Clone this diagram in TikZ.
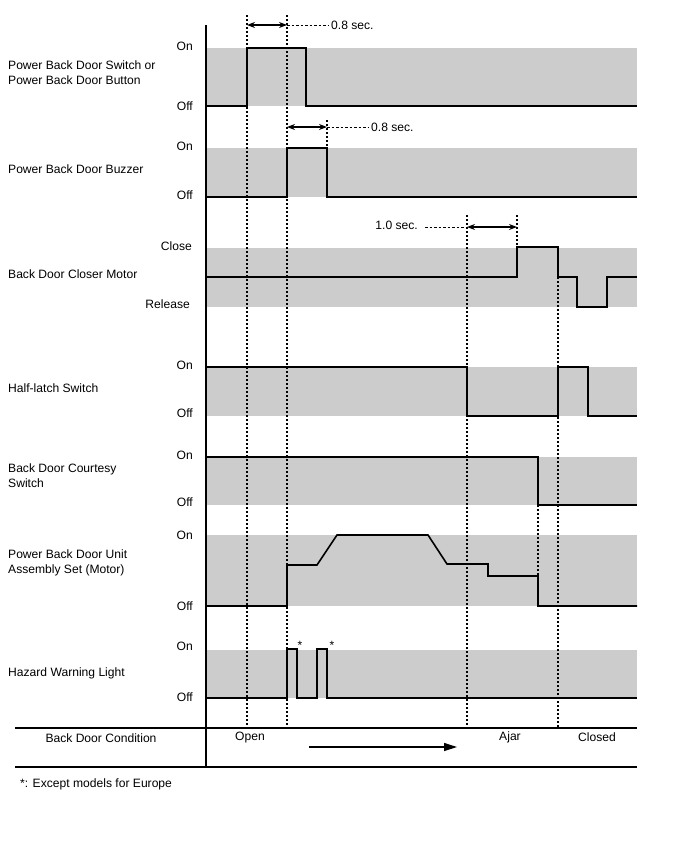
\documentclass[tikz,border=0pt]{standalone}
\usepackage{fontspec}
\setmainfont{Liberation Sans}
\usetikzlibrary{arrows.meta}
\definecolor{bandgray}{RGB}{204,204,204}

\begin{document}
\begin{tikzpicture}[x=1pt,y=-1pt,font=\fontsize{12.1}{15}\selectfont,
    sig/.style={line width=1.6pt},
    guide/.style={line width=1.3pt,dash pattern=on 2pt off 2pt},
    leader/.style={line width=0.6pt,dash pattern=on 2.5pt off 2pt},
    dim/.style={line width=1.2pt,{Stealth[length=8pt,width=6pt]}-{Stealth[length=8pt,width=6pt]}}]

      \useasboundingbox (0,0) rectangle (688,852);

      % grey level bands
      \fill[bandgray] (206,48)  rectangle (637,106);
      \fill[bandgray] (206,148) rectangle (637,197);
      \fill[bandgray] (206,248) rectangle (637,307);
      \fill[bandgray] (206,367) rectangle (637,416);
      \fill[bandgray] (206,457) rectangle (637,505);
      \fill[bandgray] (206,535) rectangle (637,606);
      \fill[bandgray] (206,650) rectangle (637,698);

      \begin{scope}[every node/.style={anchor=west,align=left,inner sep=0pt}]
        \node (sw)   at (8,73)  {Power Back Door Switch or\\Power Back Door Button};
        \node (buz)  at (8,169) {Power Back Door Buzzer};
        \node (clo)  at (8,274) {Back Door Closer Motor};
        \node (hl)   at (8,388) {Half-latch Switch};
        \node (cty)  at (8,476) {Back Door Courtesy\\Switch};
        \node (mot)  at (8,563) {Power Back Door Unit\\Assembly Set (Motor)};
        \node (haz)  at (8,673) {Hazard Warning Light};
        \node (note) at (20,784) {*: Except models for Europe};
      \end{scope}

      \begin{scope}[every node/.style={anchor=east,inner sep=0pt}]
        \node (swon)   at (193,46)  {On};
        \node (swoff)  at (193,106) {Off};
        \node (buzon)  at (193,146) {On};
        \node (buzoff) at (193,195) {Off};
        \node (cloc)   at (192,246) {Close};
        \node (clor)   at (190,304) {Release};
        \node (hlon)   at (193,365) {On};
        \node (hloff)  at (193,413) {Off};
        \node (ctyon)  at (193,455) {On};
        \node (ctyoff) at (193,502) {Off};
        \node (moton)  at (193,535) {On};
        \node (motoff) at (193,606) {Off};
        \node (hazon)  at (193,646) {On};
        \node (hazoff) at (193,697) {Off};
      \end{scope}

      % signals
      \begin{scope}[every path/.style={sig}]
        \draw (206,106) -| (247,48) -| (306,106) -- (637,106);
        \draw (206,197) -| (287,148) -| (327,197) -- (637,197);
        \draw (206,277) -| (517,247) -| (558,277) -| (577,307) -| (607,277) -- (637,277);
        \draw (206,367) -| (467,416) -| (558,367) -| (588,416) -- (637,416);
        \draw (206,457) -| (538,505) -- (637,505);
        \draw (206,606) -| (287,565) -- (317,565) -- (337,535) -- (428,535)
              -- (447,564) -| (488,576) -| (538,606) -- (637,606);
        \draw (206,698) -| (287,649) -| (297,698) -| (317,649) -| (327,698) -- (637,698);
      \end{scope}

      \begin{scope}[every node/.style={font=\fontsize{12}{12}\selectfont,inner sep=0pt}]
        \node (st1) at (300,645) {*};
        \node (st2) at (332,645) {*};
      \end{scope}

      % timing guides
      \begin{scope}[every path/.style={guide}]
        \draw (247,15)  -- (247,728);
        \draw (287,15)  -- (287,728);
        \draw (327,120) -- (327,148);
        \draw (467,215) -- (467,728);
        \draw (517,215) -- (517,247);
        \draw (558,277) -- (558,728);
        \draw (538,505) -- (538,606);
      \end{scope}

      % durations
      \coordinate (t1) at (247,25);
      \coordinate (t2) at (287,25);
      \coordinate (t3) at (287,127);
      \coordinate (t4) at (327,127);
      \coordinate (t5) at (467,227);
      \coordinate (t6) at (517,227);
      \node[anchor=west,inner sep=0pt] (d1) at (331,25)  {0.8 sec.};
      \node[anchor=west,inner sep=0pt] (d2) at (371,127) {0.8 sec.};
      \node[anchor=east,inner sep=0pt] (d3) at (418,225) {1.0 sec.};
      \draw[dim] (t1) -- (t2);
      \draw[dim] (t3) -- (t4);
      \draw[dim] (t5) -- (t6);
      \draw[leader] (t2) -- ([xshift=-3pt]d1.west);
      \draw[leader] (t4) -- ([xshift=-3pt]d2.west);
      \draw[leader] ([xshift=7pt]d3.east |- t5) -- (t5);

      % condition row
      \draw[line width=1.4pt] (206,25) -- (206,767);
      \draw[line width=1.3pt] (15,728) -- (637,728);
      \draw[line width=1.3pt] (15,767) -- (637,767);
      \node (cond)   at (101,738) {Back Door Condition};
      \node (open)   at (250,738) {Open};
      \node (ajar)   at (510,737) {Ajar};
      \node (closed) at (597,737) {Closed};
      \coordinate (a0) at (309,747);
      \coordinate (a1) at (457,747);
      \draw[line width=1.3pt,-{Triangle[length=13pt,width=8pt]}] (a0) -- (a1);

    \end{tikzpicture}
\end{document}
